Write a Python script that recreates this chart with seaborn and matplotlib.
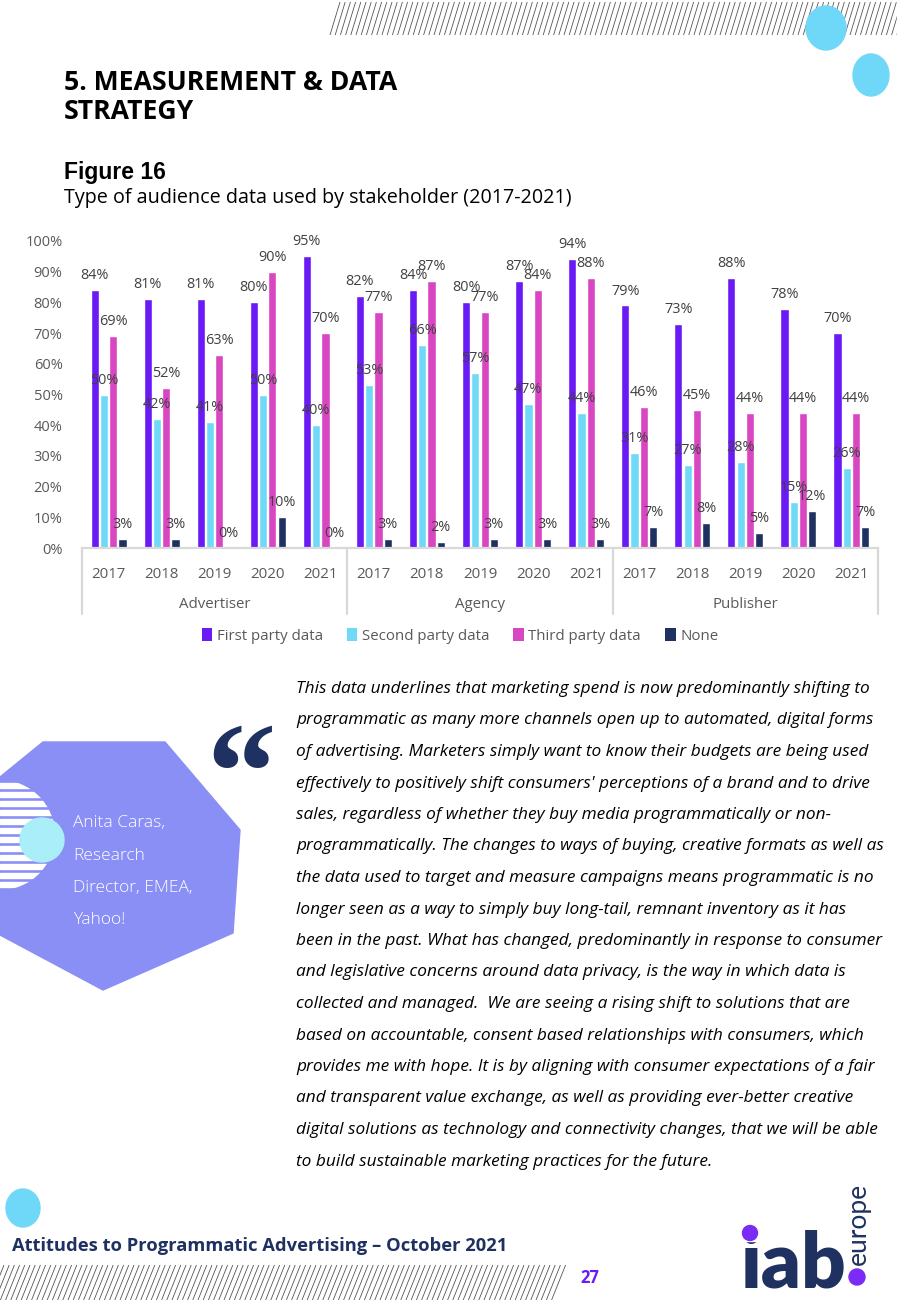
import numpy as np
import pandas as pd
import matplotlib
matplotlib.use("Agg")
import matplotlib.pyplot as plt
import seaborn as sns
from matplotlib.patches import Polygon, Circle, Ellipse, Rectangle, Patch

# ---------------- data ----------------
groups = ["Advertiser", "Agency", "Publisher"]
years = ["2017", "2018", "2019", "2020", "2021"]
series = ["First party data", "Second party data", "Third party data", "None"]

first_party = [84, 81, 81, 80, 95, 82, 84, 80, 87, 94, 79, 73, 88, 78, 70]
second_party = [50, 42, 41, 50, 40, 53, 66, 57, 47, 44, 31, 27, 28, 15, 26]
third_party = [69, 52, 63, 90, 70, 77, 87, 77, 84, 88, 46, 45, 44, 44, 44]
none_data = [3, 3, 0, 10, 0, 3, 2, 3, 3, 3, 7, 8, 5, 12, 7]

colors = ["#6A1BF5", "#70D9F7", "#D946C2", "#1F3160"]

cats = [f"{g} {y}" for g in groups for y in years]
rows = []
for s, vals in zip(series, [first_party, second_party, third_party, none_data]):
    for c, v in zip(cats, vals):
        rows.append({"cat": c, "series": s, "value": v / 100})
df = pd.DataFrame(rows)

sns.set_theme(style="white")
plt.rcParams["font.family"] = ["Open Sans", "DejaVu Sans"]

fig = plt.figure(figsize=(9, 13), dpi=100)
fig.patch.set_facecolor("white")

# background layer in pixel coordinates
bg = fig.add_axes([0, 0, 1, 1], zorder=0)
bg.set_xlim(0, 900)
bg.set_ylim(1300, 0)
bg.axis("off")

# top hatch band
for x0 in np.arange(330, 940, 5.2):
    bg.plot([x0, x0 + 10], [35, 2], color="#555555", lw=0.6, solid_capstyle="butt")
bg.add_patch(Ellipse((826, 28), 40, 44, color="#6FD8F8", zorder=3))
bg.add_patch(Ellipse((871, 75), 36, 42, color="#6FD8F8", zorder=3))
bg.add_patch(Rectangle((897, 0), 3, 40, color="white", zorder=2))

# bottom hatch band
for x0 in np.arange(-10, 555, 5.2):
    bg.plot([x0, x0 + 14], [1300, 1265], color="#555555", lw=0.6, solid_capstyle="butt")
bg.add_patch(Ellipse((23, 1208), 34, 38, color="#6FD8F8", zorder=3))

# titles
bg.text(64, 83, "5. MEASUREMENT & DATA", fontsize=19.2, fontweight="bold", color="black",
        va="center", ha="left", family="Open Sans")
bg.text(64, 112, "STRATEGY", fontsize=19.2, fontweight="bold", color="black",
        va="center", ha="left", family="Open Sans")
bg.text(64, 173, "Figure 16", fontsize=16.5, fontweight="bold", color="black",
        va="center", ha="left", family="Liberation Sans")
bg.text(64, 198, "Type of audience data used by stakeholder (2017-2021)", fontsize=14.2,
        color="black", va="center", ha="left", family="Open Sans")

# quote block
hexa = [(43, 742), (165, 742), (240, 830), (233, 933), (103, 990), (0, 935), (0, 777)]
bg.add_patch(Polygon(hexa, closed=True, color="#8A8FF5", zorder=1))
clip_circ = Circle((0, 835), 55, transform=bg.transData)
for yy in np.arange(783, 892, 9):
    r = Rectangle((0, yy), 60, 4.5, color="white", zorder=2)
    bg.add_patch(r)
    r.set_clip_path(clip_circ)
bg.add_patch(Circle((42, 840), 22, color="#AAEEF9", zorder=3))
for i, t in enumerate(["Anita Caras,", "Research", "Director, EMEA,", "Yahoo!"]):
    bg.text(73, 823 + i * 32.5, t, fontsize=12.5, color="white", fontweight="light",
            va="center", ha="left", family="Open Sans", zorder=4)
bg.text(241, 785, "\u201c", fontsize=100, color="#1F3160", fontweight="bold",
        va="center", ha="center", family="Liberation Serif", zorder=4)

quote_lines = [
    "This data underlines that marketing spend is now predominantly shifting to",
    "programmatic as many more channels open up to automated, digital forms",
    "of advertising. Marketers simply want to know their budgets are being used",
    "effectively to positively shift consumers' perceptions of a brand and to drive",
    "sales, regardless of whether they buy media programmatically or non-",
    "programmatically. The changes to ways of buying, creative formats as well as",
    "the data used to target and measure campaigns means programmatic is no",
    "longer seen as a way to simply buy long-tail, remnant inventory as it has",
    "been in the past. What has changed, predominantly in response to consumer",
    "and legislative concerns around data privacy, is the way in which data is",
    "collected and managed.  We are seeing a rising shift to solutions that are",
    "based on accountable, consent based relationships with consumers, which",
    "provides me with hope. It is by aligning with consumer expectations of a fair",
    "and transparent value exchange, as well as providing ever-better creative",
    "digital solutions as technology and connectivity changes, that we will be able",
    "to build sustainable marketing practices for the future.",
]
for i, t in enumerate(quote_lines):
    bg.text(296, 689 + i * 31.5, t, fontsize=12.4, style="italic", color="black",
            va="center", ha="left", family="Open Sans")

# footer
bg.text(12, 1246, "Attitudes to Programmatic Advertising \u2013 October 2021", fontsize=13.2,
        fontweight="bold", color="#1F3160", va="center", ha="left", family="Open Sans")
bg.text(590, 1278, "27", fontsize=12, fontweight="bold", color="#6A1BF5",
        va="center", ha="center", family="Open Sans")
bg.text(794, 1287, "iab", fontsize=56, fontweight="heavy", color="#1F3160",
        va="baseline", ha="center", family="Lato", zorder=3)
bg.add_patch(Rectangle((738, 1220), 22, 21, color="white", zorder=4))
bg.add_patch(Circle((750, 1233), 7.5, color="#7A2BF5", zorder=5))
bg.text(858, 1224, "europe", fontsize=19, color="#1F3160", rotation=90,
        va="center", ha="center", family="Lato")
bg.add_patch(Circle((857, 1277), 8, color="#7A2BF5", zorder=5))

# ---------------- chart ----------------
ax = fig.add_axes([82 / 900, 1 - 548 / 1300, 796 / 900, 307 / 1300], zorder=2)
ax.patch.set_alpha(0)
sns.barplot(data=df, x="cat", y="value", hue="series", order=cats, hue_order=series,
            palette=colors, width=0.7, gap=0.12, saturation=1, errorbar=None,
            legend=False, ax=ax)
ax.set_ylim(0, 1.0)
ax.set_xlim(-0.5, len(cats) - 0.5)
for cont in ax.containers:
    ax.bar_label(cont, labels=[f"{v * 100:.0f}%" for v in cont.datavalues],
                 padding=5, fontsize=10.4, color="#404040", family="Open Sans")

ax.set_yticks(np.linspace(0, 1, 11))
ax.set_yticklabels([f"{int(v)}%" for v in np.arange(0, 101, 10)], fontsize=10.5,
                   color="#595959")
ax.set_xticks(range(len(cats)))
ax.set_xticklabels(years * 3, fontsize=10.8, color="#595959")
ax.tick_params(axis="x", length=0, pad=14)
ax.tick_params(axis="y", length=0, pad=14)
ax.set_xlabel("")
ax.set_ylabel("")
for sp in ["top", "right", "left"]:
    ax.spines[sp].set_visible(False)
ax.spines["bottom"].set_color("#D9D9D9")
ax.spines["bottom"].set_linewidth(1.6)

# group separators & labels
trans = ax.get_xaxis_transform()
for b in [-0.5, 4.5, 9.5, 14.5]:
    ax.plot([b, b], [0, -66 / 307], transform=trans, color="#D9D9D9", lw=1.6, clip_on=False)
for gi, g in enumerate(groups):
    ax.text(gi * 5 + 2, -56 / 307, g, transform=trans, ha="center", va="center",
            fontsize=10.8, color="#595959")

handles = [Patch(facecolor=c, edgecolor="none") for c in colors]
fig.legend(handles, series, loc="center", bbox_to_anchor=(460 / 900, 1 - 636 / 1300),
           ncol=4, frameon=False, fontsize=10.8, handlelength=0.7, handleheight=0.9,
           handletextpad=0.3, columnspacing=1.6, labelcolor="#595959")

fig.savefig("out.png", dpi=100, facecolor="white")
